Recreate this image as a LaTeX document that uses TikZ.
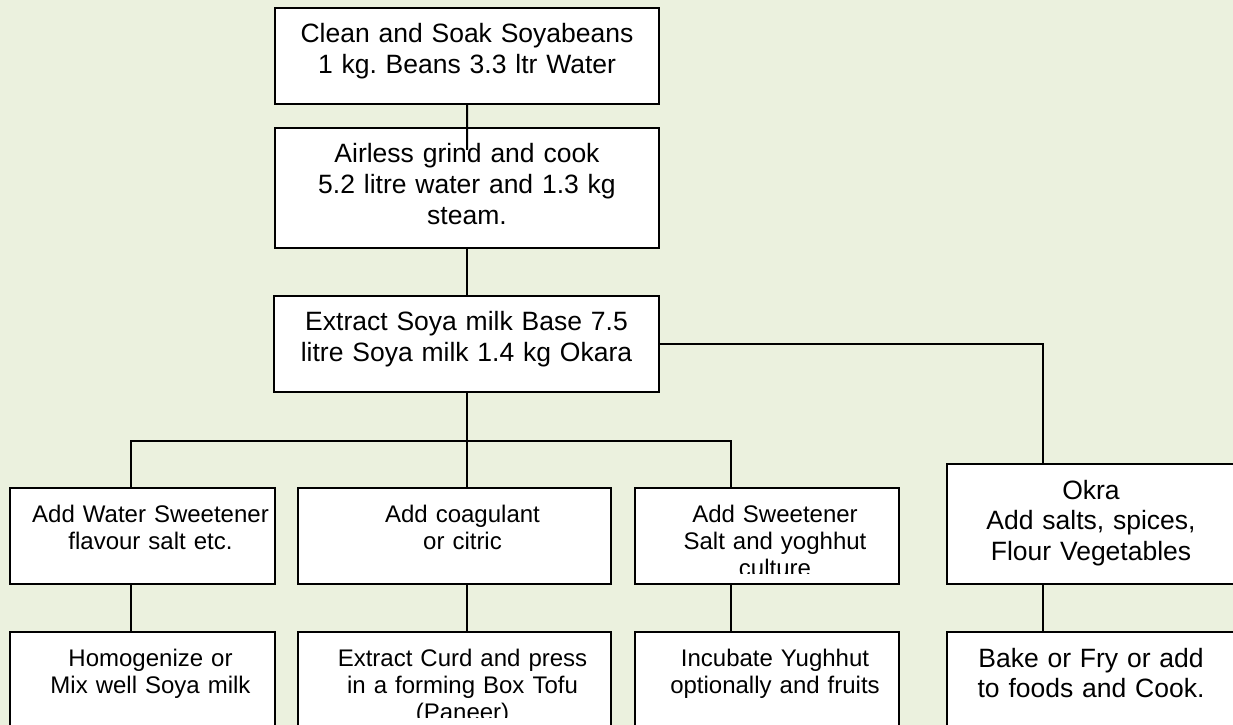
\documentclass[tikz,border=0pt]{standalone}
\usepackage{fontspec}
\setmainfont{Liberation Sans}
\usetikzlibrary{positioning}
\frenchspacing

\definecolor{paper}{HTML}{EBF1DE}
\newcommand\boxfont{\fontsize{7.54}{8.68}\selectfont}
\newcommand\colfont{\fontsize{6.83}{7.82}\selectfont}

\tikzset{
  stepbox/.style={draw, fill=white, inner sep=0pt, outer sep=0pt,
    align=center, anchor=north west, font=\boxfont,
    text width=#1, text height=0.35cm, text depth=0.61cm},
  stepbox/.default=3.84cm,
  tallbox/.style={text depth=0.85cm},
  colbox/.style={font=\colfont, text height=0.34cm, text depth=0.62cm,
    execute at begin node={\advance\leftskip by 0.16cm}},
}

\begin{document}
\begin{tikzpicture}[line width=0.57pt]

 \fill[paper] (0,0) rectangle (12.33,-7.25);
 \useasboundingbox (0,0) rectangle (12.33,-7.25);

 % main line
 \node[stepbox] (soak) at (2.75,-0.08) {Clean and Soak Soyabeans\\ 1 kg. Beans 3.3 ltr Water};
 \node[stepbox, tallbox] (grind) at (2.75,-1.28) {Airless grind and cook\\ 5.2 litre water and 1.3 kg\\ steam.};
 \node[stepbox=3.85cm] (extract) at (2.74,-2.96) {Extract Soya milk Base 7.5\\ litre Soya milk 1.4 kg Okara};

 % products
 \node[stepbox=2.65cm, colbox] (water) at (0.10,-4.88) {Add Water Sweetener\\ flavour salt etc.};
 \node[stepbox=3.13cm, colbox] (coag) at (2.98,-4.88) {Add coagulant\\ or citric};
 \node[stepbox=2.64cm, colbox] (sweet) at (6.35,-4.88) {Add Sweetener\\ Salt and yoghhut\\ culture};
 \node[stepbox=2.88cm, tallbox] (okra) at (9.47,-4.64) {Okra\\ Add salts, spices,\\ Flour Vegetables};

 \node[stepbox=2.65cm, colbox] (homog) at (0.10,-6.32) {Homogenize or\\ Mix well Soya milk};
 \node[stepbox=3.13cm, colbox] (curd) at (2.98,-6.32) {Extract Curd and press\\ in a forming Box Tofu\\ (Paneer)};
 \node[stepbox=2.64cm, colbox] (incub) at (6.35,-6.32) {Incubate Yughhut\\ optionally and fruits};
 \node[stepbox=2.88cm] (bake) at (9.47,-6.32) {Bake or Fry or add\\ to foods and Cook.};

 % text cut off at the box bottom
 \foreach \b in {sweet,curd}
   \fill[white] ([shift={(0.3pt,0.3pt)}]\b.south west) rectangle ([shift={(-0.3pt,0.1cm)}]\b.south east);

 \coordinate (overrun) at (4.67,-1.50);
 \coordinate (busL) at (1.31,-4.41);
 \coordinate (busR) at (7.31,-4.41);
 \coordinate (okrain) at ([xshift=-0.48cm]okra.north);

 \draw (soak.south) -- (overrun);
 \draw (grind.south) -- (grind.south |- extract.north);
 \draw (extract.east) -| (okrain);
 \draw ([xshift=-0.48cm]okra.south) -- ([xshift=-0.48cm]okra.south |- bake.north);

 \draw (extract.south) -- (extract.south |- busL);
 \draw (busL |- water.north) -- (busL) -- (busR) -- (busR |- sweet.north);
 \draw (extract.south |- busL) -- (extract.south |- coag.north);
 \foreach \col/\up/\down in {busL/water/homog, extract.south/coag/curd, busR/sweet/incub}
   \draw (\col |- \up.south) -- (\col |- \down.north);

\end{tikzpicture}
\end{document}
